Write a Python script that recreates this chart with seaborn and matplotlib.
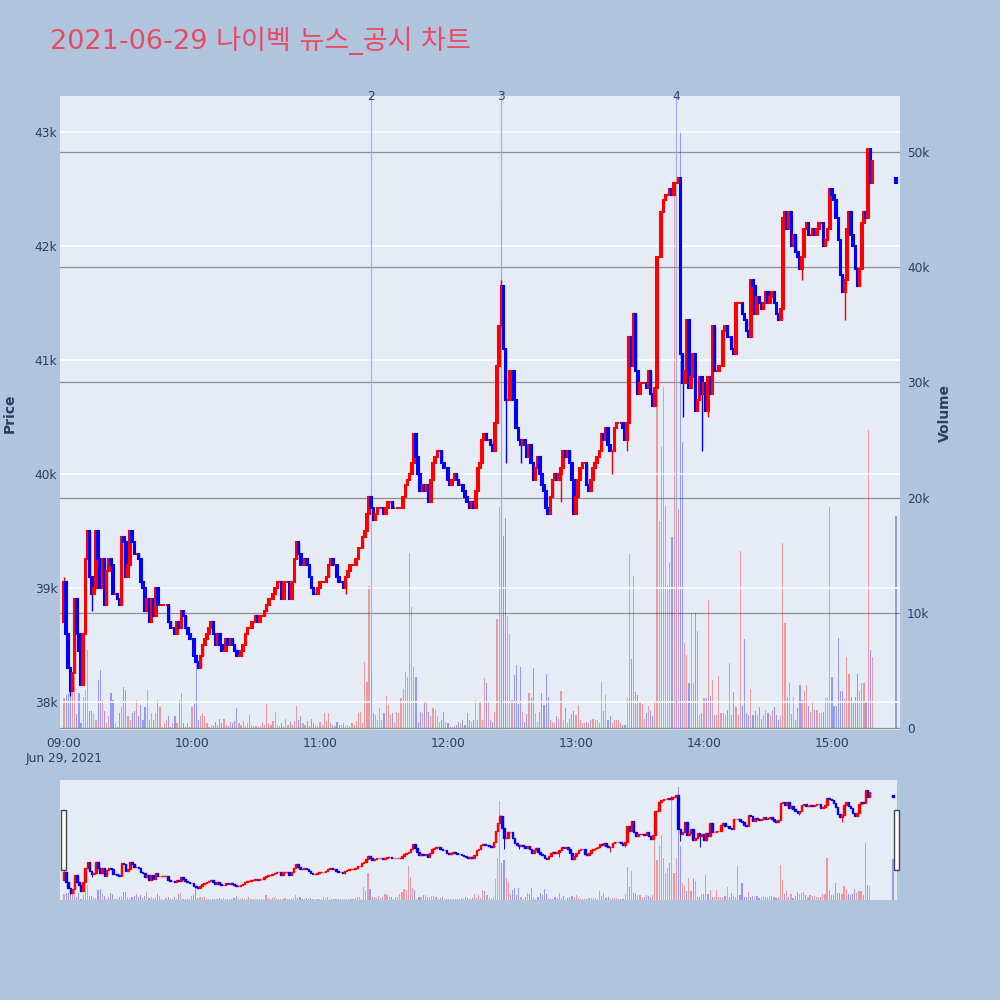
import numpy as np
import pandas as pd
import matplotlib
matplotlib.use("Agg")
import matplotlib.pyplot as plt
import matplotlib.transforms as mtransforms
from matplotlib.patches import Rectangle
import seaborn as sns

TITLE = "2021-06-29 나이벡 뉴스_공시 차트"

# one candle per minute, 09:00 .. 15:19 (minute index from 09:00)
first_open = 38700
closes = [
    39050, 38600, 38300, 38100, 38250, 38900, 38600, 38450, 38150, 38600,
    39250, 39500, 39100, 38950, 39000, 39500, 39250, 39000, 39250, 38850,
    39150, 39250, 39200, 38950, 38950, 38900, 38850, 39450, 39400, 39100,
    39200, 39500, 39400, 39300, 39300, 39250, 39050, 39000, 38800, 38900,
    38700, 38900, 38750, 39000, 38850, 38850, 38850, 38850, 38850, 38700,
    38650, 38650, 38600, 38700, 38650, 38800, 38750, 38650, 38600, 38550,
    38550, 38400, 38350, 38300, 38400, 38500, 38550, 38600, 38650, 38700,
    38600, 38500, 38600, 38500, 38450, 38450, 38550, 38500, 38550, 38500,
    38450, 38400, 38400, 38450, 38500, 38600, 38650, 38650, 38700, 38700,
    38750, 38700, 38750, 38750, 38800, 38850, 38900, 38900, 38950, 39000,
    39050, 39050, 38900, 39050, 39050, 39050, 38900, 39050, 39250, 39400,
    39300, 39200, 39200, 39250, 39200, 39100, 39000, 38950, 38950, 39000,
    39050, 39050, 39050, 39100, 39200, 39250, 39200, 39200, 39100, 39050,
    39050, 39000, 39100, 39150, 39200, 39200, 39200, 39250, 39350, 39350,
    39450, 39500, 39650, 39800, 39700, 39600, 39650, 39700, 39700, 39700,
    39650, 39700, 39750, 39750, 39700, 39700, 39700, 39700, 39700, 39800,
    39900, 39950, 40000, 40100, 40350, 40150, 40000, 39850, 39900, 39850,
    39900, 39750, 39950, 40100, 40150, 40200, 40200, 40100, 40050, 40050,
    39950, 39900, 39950, 40000, 39950, 39900, 39900, 39850, 39800, 39750,
    39700, 39750, 39700, 39850, 40050, 40100, 40300, 40350, 40300, 40300,
    40250, 40200, 40450, 40950, 41300, 41650, 41100, 40650, 40650, 40900,
    40900, 40650, 40400, 40300, 40250, 40300, 40250, 40150, 40250, 40100,
    39950, 40050, 40150, 40000, 39900, 39850, 39700, 39650, 39800, 39950,
    40000, 39950, 40000, 40050, 40200, 40150, 40200, 40100, 39950, 39650,
    39800, 39950, 40050, 40100, 40100, 39900, 39850, 39950, 40050, 40100,
    40150, 40200, 40350, 40300, 40400, 40250, 40200, 40200, 40400, 40450,
    40450, 40450, 40400, 40300, 40450, 41200, 40950, 41400, 40900, 40700,
    40800, 40800, 40800, 40750, 40900, 40700, 40600, 40750, 41900, 41900,
    42300, 42400, 42450, 42450, 42500, 42450, 42550, 42550, 42600, 41050,
    40800, 40900, 41350, 40750, 40850, 41050, 40550, 40650, 40850, 40700,
    40800, 40550, 40850, 40700, 41300, 40900, 40900, 40950, 40950, 41250,
    41300, 41200, 41200, 41100, 41050, 41500, 41500, 41500, 41400, 41350,
    41250, 41200, 41700, 41650, 41400, 41550, 41500, 41450, 41500, 41600,
    41500, 41550, 41600, 41500, 41400, 41350, 41450, 42250, 42300, 42150,
    42300, 42000, 42100, 41950, 41900, 41800, 41900, 42150, 42200, 42100,
    42100, 42150, 42100, 42150, 42200, 42200, 42000, 42050, 42150, 42500,
    42450, 42400, 42250, 42050, 41750, 41600, 41700, 42150, 42300, 42100,
    42000, 41800, 41650, 41800, 42200, 42300, 42250, 42850, 42550, 42750,
]

# volume per minute, thousands of shares
volumes_k = [
    2.6, 2.9, 3.0, 3.3, 4.7, 4.4, 1.2, 3.0, 0.4, 2.7,
    3.3, 6.8, 1.5, 1.5, 1.3, 0.7, 4.2, 5.0, 2.4, 1.5,
    0.4, 1.0, 3.0, 2.4, 0.4, 0.1, 1.3, 1.8, 3.6, 3.3,
    1.0, 0.7, 1.3, 1.5, 2.4, 1.0, 2.0, 0.7, 1.8, 3.3,
    0.7, 1.3, 0.7, 1.3, 2.4, 1.8, 0.1, 0.4, 0.7, 1.0,
    0.1, 0.4, 1.0, 0.4, 2.4, 3.0, 0.4, 0.1, 0.4, 0.1,
    1.8, 2.1, 5.9, 0.7, 1.0, 1.3, 1.0, 0.4, 0.1, 0.3,
    0.2, 0.5, 0.3, 0.8, 0.4, 0.8, 0.3, 0.2, 0.5, 0.4,
    0.6, 1.7, 0.4, 0.3, 0.6, 0.2, 0.4, 1.1, 0.3, 0.2,
    0.2, 0.1, 0.2, 0.5, 0.3, 2.1, 0.4, 0.3, 0.6, 1.4,
    0.3, 0.2, 0.4, 0.2, 0.8, 0.3, 0.5, 0.3, 0.6, 1.9,
    0.7, 1.0, 0.4, 0.3, 0.6, 0.2, 0.8, 0.4, 0.3, 0.2,
    0.5, 0.3, 1.3, 0.6, 1.3, 0.4, 0.3, 0.2, 0.5, 0.3,
    0.3, 0.4, 0.2, 0.3, 0.2, 0.4, 0.3, 0.6, 1.3, 1.4,
    0.4, 5.7, 4.0, 12.3, 4.7, 1.3, 1.1, 0.7, 1.7, 0.7,
    1.3, 2.8, 2.0, 1.1, 1.3, 0.5, 1.4, 1.3, 2.6, 3.4,
    4.9, 4.4, 15.2, 10.5, 5.3, 4.4, 0.5, 1.4, 1.3, 2.3,
    2.3, 1.4, 1.0, 1.7, 1.6, 1.0, 0.5, 0.7, 1.4, 0.5,
    0.4, 0.1, 0.1, 0.2, 0.3, 0.5, 0.4, 0.7, 0.3, 1.3,
    0.7, 0.5, 0.7, 2.4, 0.7, 2.3, 0.7, 4.3, 3.9, 2.3,
    0.7, 0.5, 1.4, 9.5, 19.2, 45.4, 16.7, 18.2, 9.7, 8.2,
    2.4, 4.6, 5.5, 2.1, 5.3, 1.4, 0.5, 1.2, 3.0, 2.7,
    5.2, 1.3, 0.5, 1.4, 3.0, 2.0, 4.7, 2.7, 0.7, 0.5,
    0.4, 1.0, 0.8, 3.2, 0.7, 1.7, 0.4, 0.8, 1.2, 1.5,
    1.1, 2.0, 0.7, 0.4, 0.4, 0.5, 0.4, 0.7, 0.8, 0.7,
    0.7, 0.4, 4.0, 1.5, 2.9, 0.7, 1.0, 0.4, 0.7, 0.7,
    0.7, 0.4, 0.3, 0.3, 2.6, 15.1, 6.0, 13.2, 3.1, 2.9,
    2.3, 2.1, 0.8, 1.3, 1.9, 1.5, 1.0, 2.3, 30.2, 18.0,
    24.4, 29.6, 19.3, 12.4, 14.3, 16.6, 47.5, 12.0, 19.0, 51.8,
    24.8, 7.4, 6.3, 3.9, 10.0, 3.9, 10.0, 8.4, 1.1, 1.3,
    2.6, 2.6, 11.1, 2.8, 4.2, 1.1, 1.1, 4.5, 1.3, 1.3,
    1.1, 1.6, 5.6, 1.1, 3.1, 1.8, 1.1, 15.4, 1.9, 7.7,
    1.3, 1.1, 3.4, 1.1, 1.5, 1.1, 1.8, 0.8, 1.1, 1.6,
    1.3, 1.1, 1.6, 1.8, 1.1, 0.7, 1.0, 16.1, 9.1, 2.7,
    3.9, 1.2, 2.7, 0.7, 1.7, 3.7, 2.4, 3.2, 3.7, 1.9,
    1.4, 2.3, 1.6, 1.6, 1.3, 1.3, 1.4, 2.6, 2.7, 19.2,
    4.4, 1.9, 1.9, 7.8, 3.2, 3.2, 2.6, 6.2, 4.7, 2.7,
    2.2, 2.7, 4.7, 3.2, 3.9, 3.9, 2.2, 25.9, 6.8, 6.2,
]

# 15:30 closing auction candle
auction_minute = 390
auction_open = 42600
auction_close = 42550
auction_volume_k = 18.4

# wicks that stick out of the bodies
wick_low_minutes = [3, 13, 132, 207, 214, 233, 257, 264, 276, 290, 299, 302, 346, 366]
wick_low_prices = [38050, 38800, 38950, 40100, 40100, 39750, 40000, 40200, 40600,
                   40500, 40200, 40500, 41700, 41350]
wick_high_minutes = [0, 205, 378]
wick_high_prices = [39100, 41700, 42850]

news_minutes = [144, 205, 287]
news_labels = ["2", "3", "4"]

hour_ticks = [0, 60, 120, 180, 240, 300, 360]
hour_labels = ["09:00\nJun 29, 2021", "10:00", "11:00", "12:00", "13:00", "14:00", "15:00"]
price_ticks = [38000, 39000, 40000, 41000, 42000, 43000]
price_labels = ["38k", "39k", "40k", "41k", "42k", "43k"]
volume_ticks = [0, 10000, 20000, 30000, 40000, 50000]
volume_labels = ["0", "10k", "20k", "30k", "40k", "50k"]

FIG_BG = "#B0C4DE"
PLOT_BG = "#E5ECF6"
TXT = "#2A3F5F"
RED = "#FF0000"
BLUE = "#0000FF"

# build the ohlc table
minutes = list(range(len(closes))) + [auction_minute]
opens = [first_open] + closes[:-1] + [auction_open]
df = pd.DataFrame({"minute": minutes, "open": opens, "close": closes + [auction_close]})
df["high"] = df[["open", "close"]].max(axis=1)
df["low"] = df[["open", "close"]].min(axis=1)
for m, p in zip(wick_low_minutes, wick_low_prices):
    df.loc[df["minute"] == m, "low"] = min(p, df.loc[df["minute"] == m, "low"].iloc[0])
for m, p in zip(wick_high_minutes, wick_high_prices):
    df.loc[df["minute"] == m, "high"] = max(p, df.loc[df["minute"] == m, "high"].iloc[0])
df["volume"] = np.array(volumes_k + [auction_volume_k]) * 1000
df["dir"] = np.where(df["close"] >= df["open"], "up", "down")

XLIM = (-1.875, 391.9)
PRICE_LIM = (37754, 43316)
VOL_LIM = (-174, 54860)

sns.set_theme(style="white")
plt.rcParams["font.family"] = ["DejaVu Sans", "Noto Sans CJK KR"]


def draw_chart(ax_p, ax_v, body_lw, wick_lw):
    sns.barplot(data=df, x="minute", y="volume", hue="dir",
                palette={"up": RED, "down": BLUE}, native_scale=True,
                dodge=False, width=0.55, errorbar=None, legend=False,
                alpha=0.35, saturation=1, linewidth=0, ax=ax_v)
    colors = np.where(df["dir"] == "up", RED, BLUE)
    ax_p.vlines(df["minute"], df["low"], df["high"], colors=colors,
                linewidth=wick_lw, zorder=3)
    ax_p.bar(df["minute"], (df["close"] - df["open"]).abs(),
             bottom=df[["open", "close"]].min(axis=1), width=0.75,
             color=colors, edgecolor=colors, linewidth=body_lw, zorder=3)
    # price axes on top of the volume axes
    ax_p.set_zorder(ax_v.get_zorder() + 1)
    ax_p.patch.set_visible(False)
    ax_v.patch.set_visible(True)
    ax_v.patch.set_facecolor(PLOT_BG)
    ax_p.set_xlim(*XLIM)
    ax_p.set_ylim(*PRICE_LIM)
    ax_v.set_ylim(*VOL_LIM)
    ax_v.set_xlabel("")
    ax_v.set_ylabel("")
    for a in (ax_p, ax_v):
        for s in a.spines.values():
            s.set_visible(False)


fig = plt.figure(figsize=(10, 10), dpi=100, facecolor=FIG_BG)

# main chart
ax = fig.add_axes([0.06, 0.27, 0.84, 0.634])
axv = ax.twinx()
draw_chart(ax, axv, body_lw=1.5, wick_lw=1.0)

ax.set_axisbelow(True)
ax.set_yticks(price_ticks, price_labels)
ax.yaxis.grid(True, color="white", linewidth=1.1)
ax.xaxis.grid(False)
ax.set_xticks(hour_ticks, hour_labels)
ax.tick_params(axis="x", length=0, pad=5, labelsize=8.7, labelcolor=TXT)
ax.tick_params(axis="y", length=0, pad=2, labelsize=8.7, labelcolor=TXT)

axv.set_yticks(volume_ticks, volume_labels)
axv.yaxis.grid(True, color="#8E8E8E", linewidth=0.9)
axv.xaxis.grid(False)
axv.tick_params(axis="y", length=0, pad=5, labelsize=8.7, labelcolor=TXT)

# news markers
trans = mtransforms.blended_transform_factory(ax.transData, ax.transAxes)
for m, lab in zip(news_minutes, news_labels):
    ax.axvline(m, color="#98A8F0", linewidth=0.9, alpha=0.85, zorder=2)
    ax.text(m, 1.0, lab, transform=trans, ha="center", va="center",
            fontsize=8.7, color=TXT)

fig.text(0.05, 0.959, TITLE, fontsize=19.5, color="#E94B63", ha="left", va="center")
fig.text(0.010, 0.587, "Price", rotation=90, ha="center", va="center",
         fontsize=10, fontweight="bold", color=TXT)
fig.text(0.945, 0.587, "Volume", rotation=90, ha="center", va="center",
         fontsize=10, fontweight="bold", color=TXT)

# range slider
axs = fig.add_axes([0.06, 0.10, 0.837, 0.12])
axsv = axs.twinx()
draw_chart(axs, axsv, body_lw=1.0, wick_lw=0.7)
for a in (axs, axsv):
    a.set_xticks([])
    a.set_yticks([])
    a.grid(False)

for hx in (0.061, 0.894):
    fig.add_artist(Rectangle((hx, 0.13), 0.005, 0.06, transform=fig.transFigure,
                             facecolor="white", edgecolor="#444444", linewidth=1.0))

fig.savefig("out.png", dpi=100, facecolor=FIG_BG)
